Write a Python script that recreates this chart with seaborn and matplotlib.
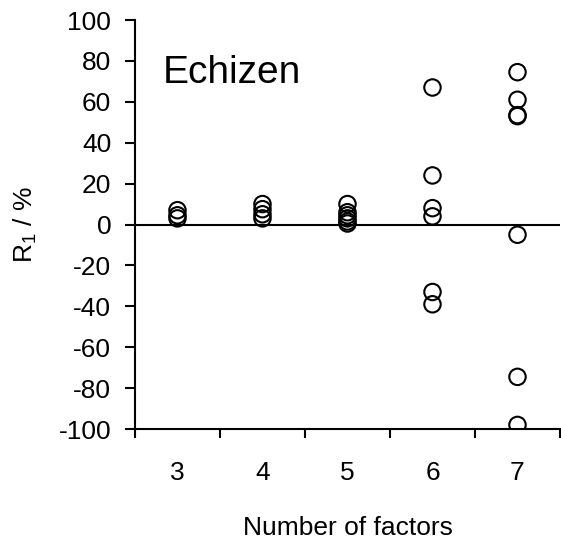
import pandas as pd
import matplotlib
matplotlib.use("Agg")
import matplotlib.pyplot as plt
import seaborn as sns

# values
factors_3 = [7, 4.5, 3]
factors_4 = [10, 7.5, 5, 3]
factors_5 = [10, 6, 4.5, 3, 1.5, 0.5]
factors_6 = [67, 24, 8, 4, -33, -39]
factors_7 = [74.5, 61, 53.5, 53, -5, -74.5, -98]
categories = [3, 4, 5, 6, 7]

rows = []
for n, vals in zip(categories, [factors_3, factors_4, factors_5, factors_6, factors_7]):
    for v in vals:
        rows.append({"factors": n, "R1": v})
df = pd.DataFrame(rows)

sns.set_style("white")
plt.rcParams['font.family'] = ['Liberation Sans', 'DejaVu Sans']
plt.rcParams['mathtext.fontset'] = 'custom'
plt.rcParams['mathtext.rm'] = 'Liberation Sans'
plt.rcParams['axes.unicode_minus'] = False
plt.rcParams['text.color'] = 'black'
plt.rcParams['axes.labelcolor'] = 'black'
plt.rcParams['xtick.color'] = 'black'
plt.rcParams['ytick.color'] = 'black'

fig = plt.figure(figsize=(5.61, 5.41), dpi=100)
ax = fig.add_axes([0.2406, 0.207, 0.7576, 0.756])

sns.scatterplot(data=df, x="factors", y="R1", ax=ax, marker="o", s=140,
                facecolor="none", edgecolor="black", linewidth=1.5, zorder=3)

ax.axhline(0, color="black", lw=1.5, zorder=2)

ax.set_xlim(2.5, 7.5)
ax.set_ylim(-100, 100)
ax.set_yticks(range(-100, 101, 20))
ax.set_xticks([2.5, 3.5, 4.5, 5.5, 6.5, 7.5])
ax.set_xticklabels([])
ax.set_xticks(categories, minor=True)
ax.set_xticklabels([str(c) for c in categories], minor=True, fontsize=19)
ax.tick_params(axis="x", which="major", direction="out", length=6.5, width=1.5, bottom=True)
ax.tick_params(axis="x", which="minor", length=0, pad=23)
ax.tick_params(axis="y", direction="out", length=7, width=1.5, left=True, labelsize=19, pad=10)

for side in ["top", "right"]:
    ax.spines[side].set_visible(False)
for side in ["left", "bottom"]:
    ax.spines[side].set_color("black")
    ax.spines[side].set_linewidth(1.5)

ax.set_xlabel("Number of factors", fontsize=19, labelpad=22)
ax.set_ylabel("R$_\\mathregular{1}$ / %", fontsize=19, labelpad=14)

ax.text(0.066, 0.87, "Echizen", transform=ax.transAxes, fontsize=28, va="center")

fig.savefig("out.png", dpi=100)
